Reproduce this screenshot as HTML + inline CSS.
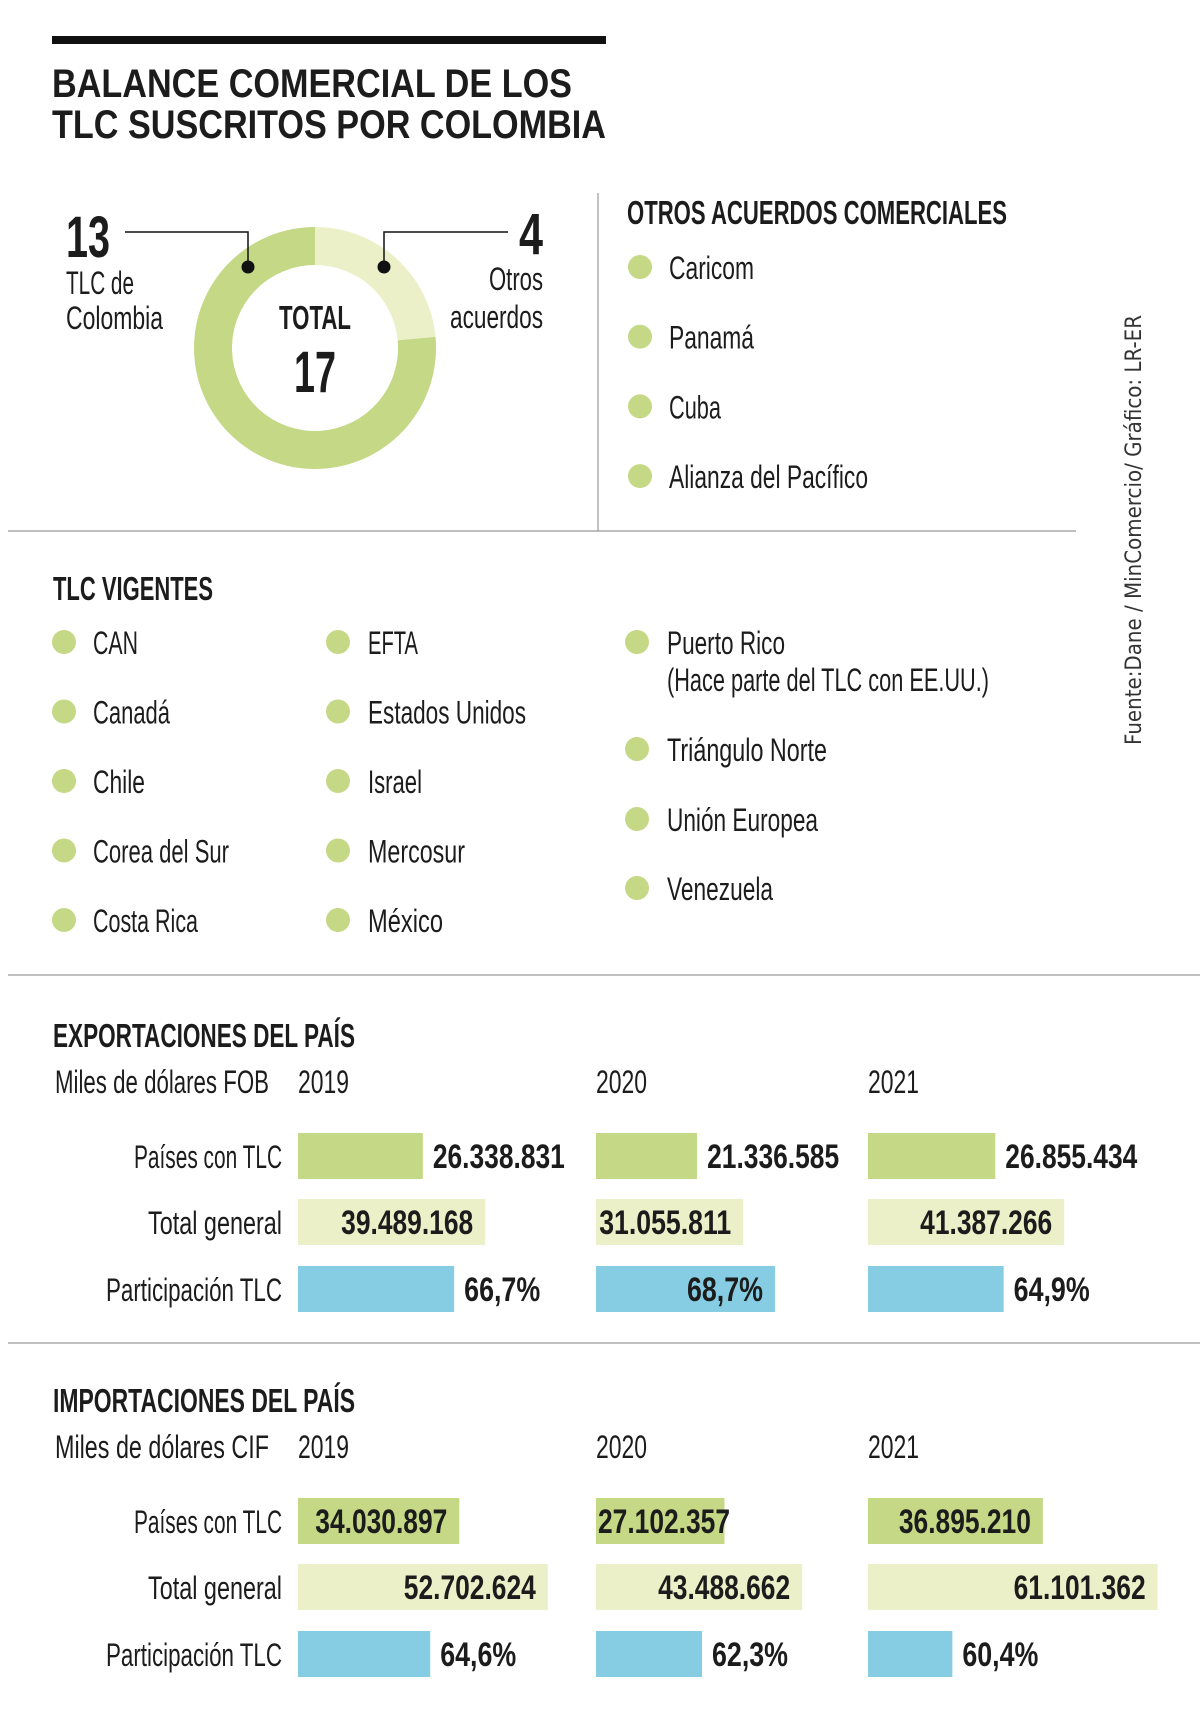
<!DOCTYPE html>
<html><head><meta charset="utf-8"><style>
html,body{margin:0;padding:0;background:#fff;}
svg{display:block;}
text{font-family:"Liberation Sans Narrow","Liberation Sans",sans-serif;fill:#1c1c1c;}
.b{font-weight:bold;}
.l{font-size:32px;}
</style></head><body>
<svg id="chart" width="1200" height="1722" viewBox="0 0 1200 1722">
<rect x="52" y="36" width="554" height="8" fill="#111"/>
<text class="b" x="52" y="97" font-size="40" textLength="520" lengthAdjust="spacingAndGlyphs">BALANCE COMERCIAL DE LOS</text>
<text class="b" x="52" y="138" font-size="40" textLength="554" lengthAdjust="spacingAndGlyphs">TLC SUSCRITOS POR COLOMBIA</text>

<g id="donut"></g>
<text class="b" x="66" y="257" font-size="58" textLength="44" lengthAdjust="spacingAndGlyphs">13</text>
<text class="l" x="66" y="294" textLength="68" lengthAdjust="spacingAndGlyphs">TLC de</text>
<text class="l" x="66" y="329" textLength="97" lengthAdjust="spacingAndGlyphs">Colombia</text>
<polyline points="125,232 248,232 248,267" fill="none" stroke="#111" stroke-width="1.5"/>
<circle cx="248" cy="267" r="6.5" fill="#111"/>
<text class="b" x="543" y="254" font-size="58" text-anchor="end" textLength="24" lengthAdjust="spacingAndGlyphs">4</text>
<text class="l" x="543" y="290" text-anchor="end" textLength="54" lengthAdjust="spacingAndGlyphs">Otros</text>
<text class="l" x="543" y="328" text-anchor="end" textLength="93" lengthAdjust="spacingAndGlyphs">acuerdos</text>
<polyline points="508,232 384,232 384,267" fill="none" stroke="#111" stroke-width="1.5"/>
<circle cx="384" cy="267" r="6.5" fill="#111"/>
<text class="b" x="315" y="329" font-size="33" text-anchor="middle" textLength="72" lengthAdjust="spacingAndGlyphs">TOTAL</text>
<text class="b" x="315" y="392" font-size="58" text-anchor="middle" textLength="42" lengthAdjust="spacingAndGlyphs">17</text>

<line x1="598" y1="193" x2="598" y2="531" stroke="#999" stroke-width="1.2"/>
<line x1="8" y1="531" x2="1076" y2="531" stroke="#999" stroke-width="1.2"/>
<text class="b" x="627" y="224" font-size="33" textLength="380" lengthAdjust="spacingAndGlyphs">OTROS ACUERDOS COMERCIALES</text>
<g id="otros-list"></g>

<text x="1141" y="745" font-size="22" transform="rotate(-90 1141 745)" textLength="430" lengthAdjust="spacingAndGlyphs" style="fill:#333;font-family:'DejaVu Sans','Liberation Sans',sans-serif">Fuente:Dane / MinComercio/ Gráfico: LR-ER</text>

<text class="b" x="53" y="600" font-size="33" textLength="160" lengthAdjust="spacingAndGlyphs">TLC VIGENTES</text>
<g id="vig-list"></g>
<line x1="8" y1="975" x2="1200" y2="975" stroke="#999" stroke-width="1.2"/>
<line x1="8" y1="1343" x2="1200" y2="1343" stroke="#999" stroke-width="1.2"/>
<g id="exp"></g>
<g id="imp"></g>
</svg>
<script>
const NS='http://www.w3.org/2000/svg';
// donut data
const donutLabels=['TLC de Colombia','Otros acuerdos'];
const donutValues=[13,4];
// lists
const otrosItems=['Caricom','Panamá','Cuba','Alianza del Pacífico'];
const vigCol1=['CAN','Canadá','Chile','Corea del Sur','Costa Rica'];
const vigCol2=['EFTA','Estados Unidos','Israel','Mercosur','México'];
const vigCol3=['Puerto Rico','Triángulo Norte','Unión Europea','Venezuela'];
// trade charts
const years=['2019','2020','2021'];
const rowLabels=['Países con TLC','Total general','Participación TLC'];
const expTLC=[26338831,21336585,26855434];
const expTotal=[39489168,31055811,41387266];
const expShare=[66.7,68.7,64.9];
const impTLC=[34030897,27102357,36895210];
const impTotal=[52702624,43488662,61101362];
const impShare=[64.6,62.3,60.4];

const textW={'CAN':45,'Canadá':77,'Chile':52,'Corea del Sur':136,'Costa Rica':105,'EFTA':50,'Estados Unidos':158,'Israel':54,'Mercosur':97,'México':75,'Puerto Rico':118,'Triángulo Norte':160,'Unión Europea':151,'Venezuela':106,'Caricom':85,'Panamá':85,'Cuba':52,'Alianza del Pacífico':199};

function el(tag,attrs,parent,txt){const e=document.createElementNS(NS,tag);for(const k in attrs)e.setAttribute(k,attrs[k]);if(txt!==undefined)e.textContent=txt;parent.appendChild(e);return e;}

// donut
(function(){
 const g=document.getElementById('donut');const cx=315,cy=348,R=121,r=83;
 const tot=donutValues.reduce((a,b)=>a+b,0);
 const cols=['#c5d886','#ebf0c8'];
 const order=[1,0];let a0=0;
 order.forEach(i=>{const a1=a0+donutValues[i]/tot*2*Math.PI;
  const p=(rad,ang)=>[cx+rad*Math.sin(ang),cy-rad*Math.cos(ang)];
  const large=(a1-a0)>Math.PI?1:0;
  const [x0,y0]=p(R,a0),[x1,y1]=p(R,a1),[x2,y2]=p(r,a1),[x3,y3]=p(r,a0);
  const path=el('path',{d:`M${x0},${y0} A${R},${R} 0 ${large} 1 ${x1},${y1} L${x2},${y2} A${r},${r} 0 ${large} 0 ${x3},${y3} Z`,fill:cols[i]},g);
  
  
  a0=a1;});
})();

function charW(s){return textW[s]||s.length*9.6;}
function bulletItem(g,cx,tx,y,t,name){
 const c=el('circle',{cx:cx,cy:y,r:12,fill:'#c5d886'},g);
 
 
 const tt=el('text',{x:tx,y:y+12,'class':'l',textLength:charW(t),lengthAdjust:'spacingAndGlyphs'},g,t);
 
 
 return tt;
}
(function(){
 const g=document.getElementById('otros-list');
 otrosItems.forEach((t,i)=>bulletItem(g,640,669,267+i*69.7,t,'otros-item'));
 const v=document.getElementById('vig-list');
 vigCol1.forEach((t,i)=>bulletItem(v,64,93,642+i*69.5,t,'tlc-item'));
 vigCol2.forEach((t,i)=>bulletItem(v,338,368,642+i*69.5,t,'tlc-item'));
 const ys=[642,749,819,888];
 vigCol3.forEach((t,i)=>bulletItem(v,637,667,ys[i],t,'tlc-item'));
 const n=el('text',{x:667,y:691,'class':'l',textLength:322,lengthAdjust:'spacingAndGlyphs'},v,'(Hace parte del TLC con EE.UU.)');
 
 
})();

function fmt(n){return String(n).replace(/\B(?=(\d{3})+(?!\d))/g,'.');}
function fmtP(p){return p.toFixed(1).replace('.',',')+'%';}
const colX=[298,596,868];
const xMoney=v=>v/1e6*4.74;
const xShare=v=>(v-53)*11.4;

function drawSection(gid,title,unit,top,tlc,total,share,mode){
 const g=document.getElementById(gid);
 const t=el('text',{x:53,y:top,'class':'b','font-size':33,textLength:302,lengthAdjust:'spacingAndGlyphs'},g,title);
 
 
 const u=el('text',{x:55,y:top+46,'class':'l',textLength:unit.length*10.7,lengthAdjust:'spacingAndGlyphs'},g,unit);
 
 
 years.forEach((y,i)=>{const yt=el('text',{x:colX[i],y:top+46,'class':'l',textLength:51,lengthAdjust:'spacingAndGlyphs'},g,y);
  
  });
 const rowsY=[top+86,top+152,top+219];
 const rowW=[148,134,176];
 rowLabels.forEach((l,i)=>{const rt=el('text',{x:282,y:rowsY[i]+35,'class':'l','text-anchor':'end',textLength:rowW[i],lengthAdjust:'spacingAndGlyphs'},g,l);
  
  });
 const series=[tlc,total,share];
 const colors=['#c5d886','#ebf0c8','#86cde3'];
 series.forEach((arr,ri)=>{
  arr.forEach((v,ci)=>{
   const w=ri===2?xShare(v):xMoney(v);
   const b=el('rect',{x:colX[ci],y:rowsY[ri],width:w,height:46,fill:colors[ri]},g);
   
   
   const s=ri===2?fmtP(v):fmt(v);
   const tl=ri===2?76:132;
   const m=mode[ri][ci];
   let x,anchor;
   if(m==='o'){x=colX[ci]+w+10;anchor='start';}
   else{x=Math.max(colX[ci]+w-12,colX[ci]+tl+2);anchor='end';}
   const lt=el('text',{x:x,y:rowsY[ri]+35,'class':'b','font-size':34,'text-anchor':anchor,textLength:tl,lengthAdjust:'spacingAndGlyphs'},g,s);
   
   
  });
 });
}
drawSection('exp','EXPORTACIONES DEL PAÍS','Miles de dólares FOB',1047,expTLC,expTotal,expShare,[['o','o','o'],['i','i','i'],['o','i','o']]);
drawSection('imp','IMPORTACIONES DEL PAÍS','Miles de dólares CIF',1412,impTLC,impTotal,impShare,[['i','i','i'],['i','i','i'],['o','o','o']]);
</script>
</body></html>
